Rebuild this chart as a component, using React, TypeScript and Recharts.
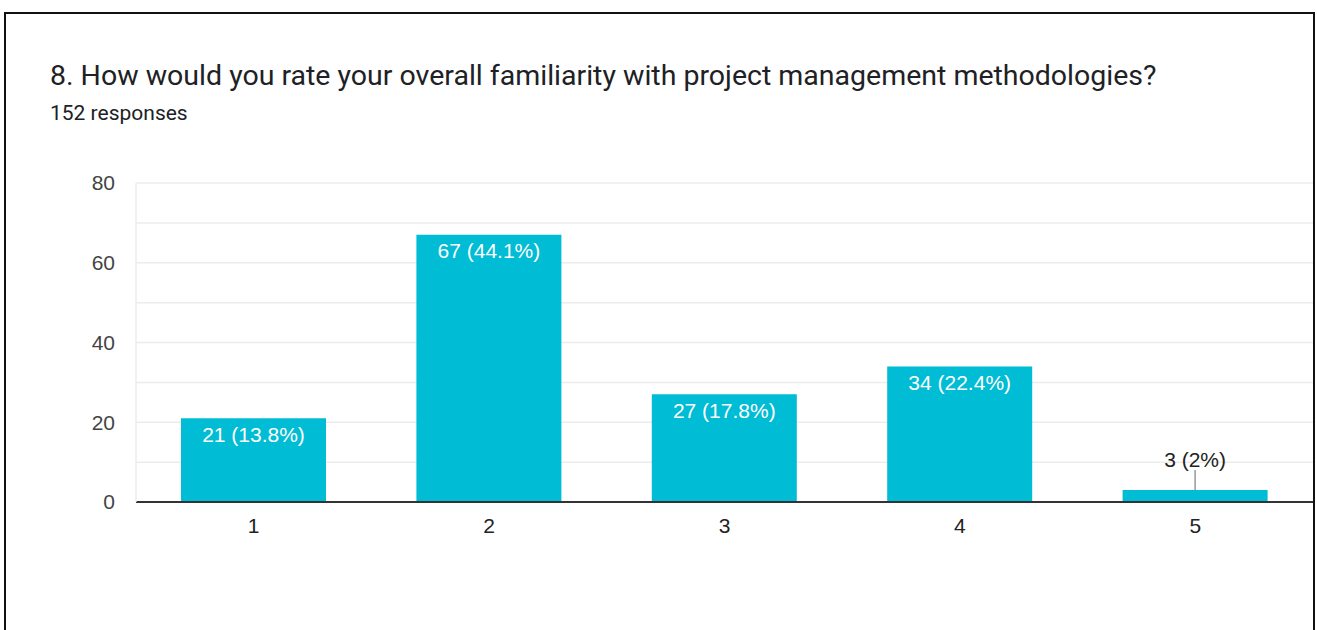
import React from "react";
import { Bar, BarChart, CartesianGrid, LabelList, XAxis, YAxis } from "recharts";

const categories = ["1", "2", "3", "4", "5"];
const counts = [21, 67, 27, 34, 3];
const percents = ["13.8%", "44.1%", "17.8%", "22.4%", "2%"];
const yTicks = [0, 20, 40, 60, 80];
const gridValues = [0, 10, 20, 30, 40, 50, 60, 70, 80];

const data = categories.map((c, i) => ({ name: c, count: counts[i], pct: percents[i] }));

const BAR_COLOR = "#00bcd4";
const CHART_FONT = "'Liberation Sans', Arial, sans-serif";

function BarLabel(props: any) {
  const { x, y, width, height, index } = props;
  const d = data[index];
  const text = `${d.count} (${d.pct})`;
  const cx = x + width / 2;
  if (height < 30) {
    return (
      <g>
        <line x1={cx} x2={cx} y1={y - 20} y2={y} stroke="#999" strokeWidth={1.5} />
        <text x={cx} y={y - 31} textAnchor="middle" dominantBaseline="central" fill="#222" fontSize={21} fontFamily={CHART_FONT}>
          {text}
        </text>
      </g>
    );
  }
  return (
    <text x={cx} y={y + 16} textAnchor="middle" dominantBaseline="central" fill="#fff" fontSize={21} fontFamily={CHART_FONT}>
      {text}
    </text>
  );
}

export default function App() {
  return (
    <div style={{ position: "absolute", left: 0, top: 0, width: 1317, height: 630, overflow: "hidden", background: "#fff" }}>
      <div
        style={{
          position: "absolute",
          left: 4,
          top: 12,
          width: 1307,
          height: 660,
          border: "2px solid #111",
        }}
      />
      <div
        style={{
          position: "absolute",
          left: 50,
          top: 59,
          fontFamily: "Roboto, sans-serif",
          fontSize: 28.5,
          color: "#202124",
          whiteSpace: "nowrap",
        }}
      >
        8. How would you rate your overall familiarity with project management methodologies?
      </div>
      <div
        style={{
          position: "absolute",
          left: 50,
          top: 101,
          fontFamily: "Roboto, sans-serif",
          fontSize: 21,
          color: "#202124",
          whiteSpace: "nowrap",
        }}
      >
        152 responses
      </div>
      <div style={{ position: "absolute", left: 0, top: 0 }}>
        <BarChart
          width={1317}
          height={630}
          data={data}
          margin={{ top: 183, right: 4, bottom: 98, left: 76 }}
          barSize={145}
        >
          <CartesianGrid vertical={false} horizontalValues={gridValues} stroke="#ececec" strokeWidth={1.5} />
          <XAxis
            dataKey="name"
            axisLine={{ stroke: "#333", strokeWidth: 2 }}
            tickLine={false}
            tickSize={0}
            tickMargin={16}
            tick={{ fill: "#222", fontSize: 21, fontFamily: CHART_FONT }}
          />
          <YAxis
            width={60}
            domain={[0, 80]}
            ticks={yTicks}
            axisLine={{ stroke: "#ececec", strokeWidth: 1.5 }}
            tickLine={false}
            tickSize={0}
            tickMargin={21}
            tick={{ fill: "#444", fontSize: 21, fontFamily: CHART_FONT }}
          />
          <Bar dataKey="count" fill={BAR_COLOR} isAnimationActive={false}>
            <LabelList dataKey="count" content={BarLabel} />
          </Bar>
        </BarChart>
      </div>
    </div>
  );
}
